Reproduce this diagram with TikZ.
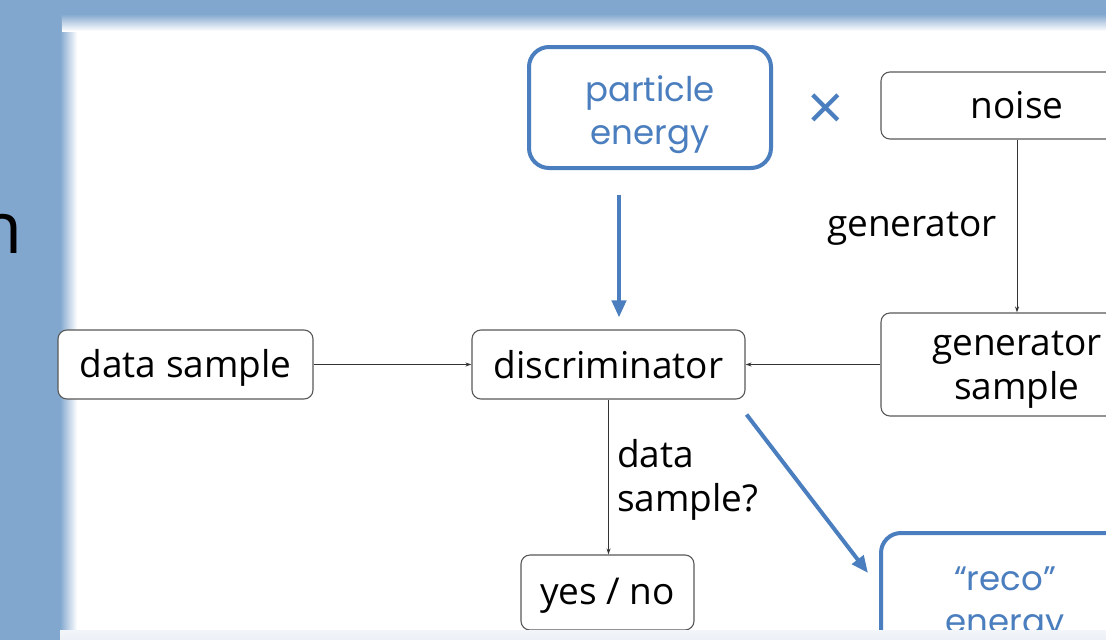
\documentclass[tikz,border=0pt]{standalone}
\usepackage{fontspec}
\setmainfont{Open Sans}
\newfontfamily\bluefont{Poppins}
\usepackage{tikz}
\usetikzlibrary{arrows.meta, positioning}
\definecolor{slideblue}{RGB}{130,167,206}
\definecolor{boxblue}{RGB}{74,126,190}
\definecolor{stripgray}{RGB}{236,240,246}
\newcommand{\down}[2]{\raisebox{-#1pt}[\height][\depth]{#2}}

\begin{document}
\begin{tikzpicture}[x=1pt, y=-1pt,
        box/.style={rectangle, draw=black!65, line width=1.1pt, rounded corners=9pt, fill=white, inner sep=0pt, align=center, font=\fontsize{37}{44}\selectfont},
        bluebox/.style={rectangle, draw=boxblue, line width=4pt, rounded corners=20pt, fill=white, inner sep=0pt, align=center, text=boxblue, font=\bluefont\fontsize{34}{43}\selectfont},
        lbl/.style={font=\fontsize{37}{44}\selectfont, align=left, inner sep=0pt},
        arrow/.style={-{Stealth[length=6pt,width=4pt]}, black!80, line width=0.8pt},
        bluearrow/.style={-{Triangle[length=17pt,width=14pt]}, boxblue, line width=4pt}
    ]
        \useasboundingbox (0,0) rectangle (1106,640);
        % slide background
        \fill[slideblue] (0,0) rectangle (1106,640);
        \fill[white] (75,30) rectangle (1106,640);
        \shade[left color=slideblue, right color=white] (60,14) rectangle (77,640);
        \shade[top color=slideblue, bottom color=white] (62,14) rectangle (1106,31);
        \node[font=\fontsize{72}{72}\selectfont, anchor=base east, inner sep=0pt] (T) at (23,253) {n};

        \node[bluebox, minimum width=242, minimum height=121] (P) at (650,107.5) {\down{7}{particle}\\\down{7}{energy}};
        \node[text=boxblue, font=\fontsize{64}{64}\selectfont, inner sep=0pt] (X) at (826,112) {×};
        \node[box, minimum width=272, minimum height=67] (N) at (1017,105.5) {noise};
        \node[box, minimum width=272, minimum height=103] (G) at (1017,364.5) {\down{5}{generator}\\\down{5}{sample}};
        \node[box, minimum width=273, minimum height=69] (D) at (608.5,364.5) {discriminator};
        \node[box, minimum width=255, minimum height=69] (S) at (185.5,364.5) {\down{3}{data sample}};
        \node[box, minimum width=173, minimum height=75] (Y) at (607.5,592.5) {\down{3}{yes / no}};
        \node[bluebox, minimum width=248, minimum height=132] (R) at (1005,599) {\down{6}{“reco”}\\\down{6}{energy}};
        \node[lbl] (GL) at (912,229) {generator};
        \node[lbl, anchor=west] (DL) at (617,480) {data\\sample?};

        \draw[arrow] (S) -- (D);
        \draw[arrow] (G) -- (D);
        \draw[arrow] (N) -- (G);
        \draw[arrow] (D.south) -- (D.south |- Y.north);
        \draw[bluearrow] ([xshift=-31pt,yshift=-25pt]P.south) -- ([xshift=10.5pt,yshift=12pt]D.north);
        \draw[bluearrow] ([xshift=1pt,yshift=-15pt]D.south east) -- ([xshift=-11pt,yshift=-42pt]R.north west);

        % bottom edge of the slide
        \shade[top color=stripgray!70, bottom color=stripgray] (60,630) rectangle (1106,640);
    \end{tikzpicture}
\end{document}
